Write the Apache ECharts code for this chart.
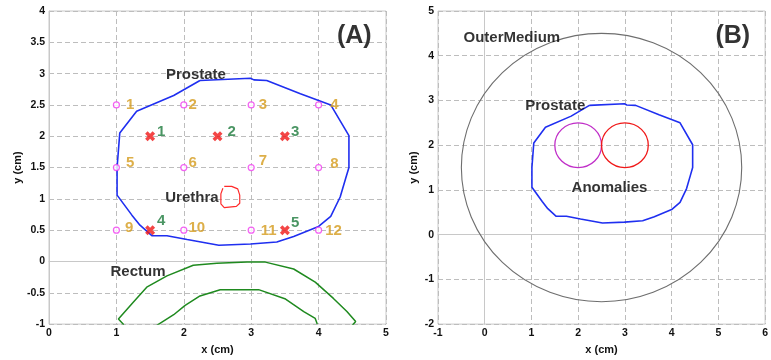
<!DOCTYPE html>
<html><head><meta charset="utf-8">
<script src="https://cdn.jsdelivr.net/npm/echarts@6/dist/echarts.min.js"></script>
<style>html,body{margin:0;padding:0;background:#fff}#c{width:771px;height:360px}</style>
</head><body><div id="c"></div>
<script>
// ---------- DATA ----------
const prostateContour = [
  [2.24,2.89],[2.99,2.925],[3.04,2.90],[3.23,2.89],[3.73,2.68],[4.18,2.50],[4.45,2.01],[4.45,1.50],
  [4.40,1.32],[4.32,1.03],[4.18,0.72],[4.00,0.56],[3.63,0.40],[3.38,0.31],[2.99,0.28],[2.52,0.26],
  [2.05,0.35],[1.75,0.41],[1.53,0.41],[1.35,0.58],[1.23,0.74],[1.01,1.06],[1.01,1.35],[1.01,1.50],
  [1.05,2.05],[1.30,2.40],[1.85,2.65],[2.24,2.89]
];
const urethra = [
  [2.60,1.20],[2.71,1.20],[2.80,1.16],[2.83,1.06],[2.83,0.93],[2.78,0.88],[2.60,0.86],[2.55,0.92],
  [2.55,1.08],[2.58,1.17]
];
const rectumOuter = [
  [1.11,-1.01],[1.03,-0.92],[1.25,-0.65],[1.45,-0.41],[1.75,-0.23],[2.14,-0.06],[2.49,-0.03],
  [2.94,-0.01],[3.21,-0.01],[3.63,-0.12],[3.95,-0.33],[4.22,-0.59],[4.42,-0.80],[4.55,-0.96],[4.50,-1.02]
];
const rectumInner = [
  [1.60,-1.02],[1.85,-0.85],[2.02,-0.70],[2.24,-0.55],[2.54,-0.45],[3.11,-0.45],[3.51,-0.60],
  [3.78,-0.80],[3.95,-0.91],[3.98,-1.00]
];
const sensorX = [1,2,3,4, 1,2,3,4, 1,2,3,4];
const sensorY = [2.5,2.5,2.5,2.5, 1.5,1.5,1.5,1.5, 0.5,0.5,0.5,0.5];
const sensorLabels = ['1','2','3','4','5','6','7','8','9','10','11','12'];
const targetX = [1.5,2.5,3.5,1.5,3.5];
const targetY = [2.0,2.0,2.0,0.5,0.5];
const targetLabels = ['1','2','3','4','5'];
// Panel B circles: [cx, cy, r]
const outerMedium = [2.5,1.5,3.0];
const anomalyMagenta = [2.0,2.0,0.5];
const anomalyRed = [3.0,2.0,0.5];
// text annotations [x, y, text]
const textA = [[2.18,2.98,'Prostate'],[2.12,1.01,'Urethra'],[1.32,-0.17,'Rectum']];
const titleA = [[4.53,3.60,'(A)']];
const textB = [[0.58,4.39,'OuterMedium'],[1.51,2.88,'Prostate'],[2.67,1.05,'Anomalies']];
const titleB = [[5.31,4.44,'(B)']];

// ---------- STYLE ----------
const FONT = '"Liberation Sans", Arial, sans-serif';
const sensorOff = [[6,0],[1,0],[4,0],[8,0],[6,-5],[1,-5],[4,-7],[8,-4],[5,-2],[1,-2],[6,1],[3,1]];
const targetOff = [[2,-4],[5,-4],[1,-4],[2,-9],[1,-7]];

function axisCommon(){
  return {
    axisLine:{show:true,lineStyle:{color:'#c8c8c8',width:1}},
    axisTick:{show:false},
    splitLine:{show:true,lineStyle:{color:'#bdbdbd',type:[5,3],width:1}},
    axisLabel:{color:'#111',fontSize:10.5,fontWeight:'bold',fontFamily:FONT,margin:4},
    nameTextStyle:{color:'#111',fontSize:11,fontWeight:'bold',fontFamily:FONT},
    nameLocation:'middle'
  };
}
function lineSeries(idx,data,color,w){
  return {type:'line',xAxisIndex:idx,yAxisIndex:idx,data:data,showSymbol:false,symbol:'none',
    smooth:false,clip:true,lineStyle:{color:color,width:w},silent:true,z:3};
}
function textSeries(idx,data,size){
  return {type:'scatter',xAxisIndex:idx,yAxisIndex:idx,symbolSize:0,silent:true,z:10,
    data:data.map(d=>({value:[d[0],d[1]],label:{formatter:d[2]}})),
    label:{show:true,position:'inside',color:'#000',fontSize:size,fontWeight:'bold',fontFamily:FONT}};
}
function circleSeries(idx,c,color,w){
  return {type:'custom',xAxisIndex:idx,yAxisIndex:idx,silent:true,z:4,
    data:[c],encode:{x:0,y:1},
    renderItem:function(params,api){
      const p = api.coord([api.value(0),api.value(1)]);
      const s = api.size([api.value(2),api.value(2)]);
      return {type:'circle',x:p[0],y:p[1],scaleY:s[1]/s[0],
        shape:{cx:0,cy:0,r:s[0]},
        style:{fill:'none',stroke:color,lineWidth:w,strokeNoScale:true}};
    }};
}
const xPath = 'path://M0,2.5 L2.5,0 L5,2.5 L7.5,0 L10,2.5 L7.5,5 L10,7.5 L7.5,10 L5,7.5 L2.5,10 L0,7.5 L2.5,5 Z';

const option = {
  animation:false,
  backgroundColor:'#fff',
  grid:[
    {left:49,right:385,top:11,bottom:31,show:true,borderColor:'#c8c8c8',borderWidth:1,backgroundColor:'transparent'},
    {left:438,right:-1,top:11,bottom:35,show:true,borderColor:'#c8c8c8',borderWidth:1,backgroundColor:'transparent'}
  ],
  xAxis:[
    Object.assign(axisCommon(),{type:'value',gridIndex:0,min:0,max:5,interval:1,name:'x (cm)',nameGap:16}),
    Object.assign(axisCommon(),{type:'value',gridIndex:1,min:-1,max:6,interval:1,name:'x (cm)',nameGap:14})
  ],
  yAxis:[
    Object.assign(axisCommon(),{type:'value',gridIndex:0,min:-1,max:4,interval:0.5,name:'y (cm)',nameGap:26}),
    Object.assign(axisCommon(),{type:'value',gridIndex:1,min:-2,max:5,interval:1,name:'y (cm)',nameGap:19})
  ],
  series:[
    lineSeries(0,prostateContour,'#1f2ff0',1.6),
    lineSeries(0,urethra,'#ff2a2a',1.2),
    lineSeries(0,rectumOuter,'#1f8a1f',1.5),
    lineSeries(0,rectumInner,'#1f8a1f',1.5),
    {type:'scatter',xAxisIndex:0,yAxisIndex:0,symbol:'circle',symbolSize:6,silent:true,z:6,
      itemStyle:{color:'#fff',borderColor:'#f03cf0',borderWidth:1.2},
      data:sensorX.map((x,i)=>({value:[x,sensorY[i]],label:{formatter:sensorLabels[i],offset:sensorOff[i]}})),
      label:{show:true,position:'right',distance:0,color:'#d49b1c',fontSize:15,fontWeight:'bold',fontFamily:FONT}},
    {type:'scatter',xAxisIndex:0,yAxisIndex:0,symbol:xPath,symbolSize:10,silent:true,z:7,
      itemStyle:{color:'#f01818'},
      data:targetX.map((x,i)=>({value:[x,targetY[i]],label:{formatter:targetLabels[i],offset:targetOff[i]}})),
      label:{show:true,position:'right',distance:0,color:'#1d7a3c',fontSize:15,fontWeight:'bold',fontFamily:FONT}},
    textSeries(0,textA,15),
    textSeries(0,titleA,25),
    circleSeries(1,outerMedium,'#6e6e6e',1.1),
    lineSeries(1,prostateContour,'#1f2ff0',1.6),
    circleSeries(1,anomalyMagenta,'#c02ec8',1.3),
    circleSeries(1,anomalyRed,'#f01818',1.3),
    textSeries(1,textB,15),
    textSeries(1,titleB,25)
  ]
};
const chart = echarts.init(document.getElementById('c'),null,{renderer:'canvas'});
chart.setOption(option);
</script></body></html>
